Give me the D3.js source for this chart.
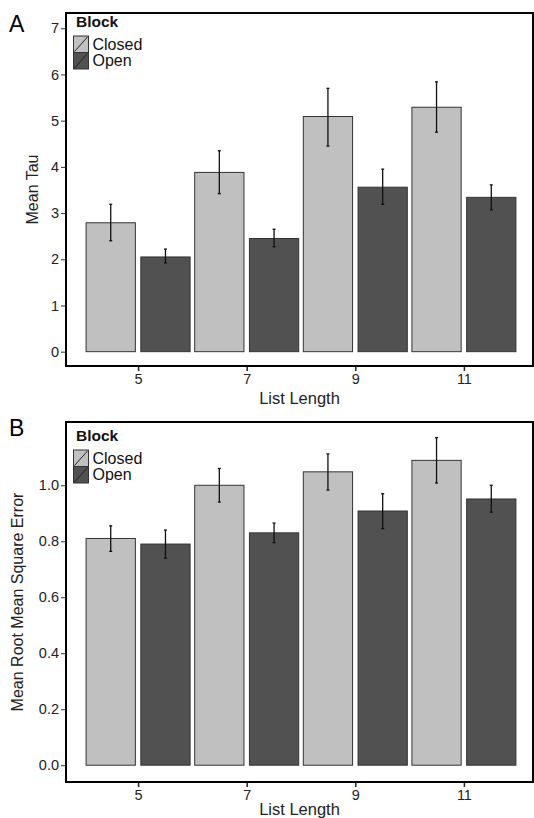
<!DOCTYPE html>
<html><head><meta charset="utf-8">
<script src="https://cdn.jsdelivr.net/npm/d3@7"></script>
<style>body{margin:0;background:#fff}svg{display:block}text{font-family:"Liberation Sans",Arial,Helvetica,sans-serif}</style>
</head><body>
<script>
const categories = ["5","7","9","11"];
const series = ["Closed","Open"];
// Panel A: Mean Tau
const tauClosed = [2.79, 3.88, 5.09, 5.29];
const tauClosedLo = [2.40, 3.42, 4.45, 4.75];
const tauClosedHi = [3.19, 4.35, 5.70, 5.84];
const tauOpen = [2.05, 2.45, 3.56, 3.34];
const tauOpenLo = [1.92, 2.27, 3.19, 3.07];
const tauOpenHi = [2.22, 2.65, 3.95, 3.61];
const tauTicks = [0,1,2,3,4,5,6,7];
// Panel B: Mean RMSE
const rmseClosed = [0.81, 1.00, 1.048, 1.089];
const rmseClosedLo = [0.764, 0.94, 0.983, 1.008];
const rmseClosedHi = [0.855, 1.06, 1.112, 1.170];
const rmseOpen = [0.79, 0.83, 0.908, 0.951];
const rmseOpenLo = [0.74, 0.795, 0.845, 0.904];
const rmseOpenHi = [0.84, 0.865, 0.970, 1.000];
const rmseTicks = [0,0.2,0.4,0.6,0.8,1.0];

const colors = {Closed:"#c0c0c0", Open:"#515151"};
const W=534,H=818;
const svg=d3.select("body").append("svg").attr("width",W).attr("height",H);

function panel(o){
  const g=svg.append("g");
  const x=d3.scalePoint().domain(categories).range([o.left+1.5,o.right+1.5]).padding(0.65);
  const xi=d3.scaleBand().domain(series).range([-52,52]).paddingInner(0.1);
  const y=d3.scaleLinear().domain(o.domain).range([o.bottom,o.top]);
  const rows=[];
  categories.forEach((c,i)=>{
    rows.push({c,s:"Closed",v:o.closed[i],lo:o.closedLo[i],hi:o.closedHi[i]});
    rows.push({c,s:"Open",v:o.open[i],lo:o.openLo[i],hi:o.openHi[i]});
  });
  g.selectAll("rect.bar").data(rows).join("rect").attr("class","bar")
    .attr("x",d=>x(d.c)+xi(d.s)).attr("width",xi.bandwidth())
    .attr("y",d=>y(d.v)).attr("height",d=>y(0)-y(d.v))
    .attr("fill",d=>colors[d.s]).attr("stroke","#333").attr("stroke-width",1);
  const eb=g.selectAll("g.eb").data(rows).join("g").attr("class","eb")
    .attr("transform",d=>`translate(${x(d.c)+xi(d.s)+xi.bandwidth()/2},0)`);
  eb.append("line").attr("y1",d=>y(d.lo)).attr("y2",d=>y(d.hi)).attr("stroke","#111").attr("stroke-width",1.3);
  eb.append("line").attr("x1",-1.5).attr("x2",1.5).attr("y1",d=>y(d.hi)).attr("y2",d=>y(d.hi)).attr("stroke","#111").attr("stroke-width",1.3);
  eb.append("line").attr("x1",-1.5).attr("x2",1.5).attr("y1",d=>y(d.lo)).attr("y2",d=>y(d.lo)).attr("stroke","#111").attr("stroke-width",1.3);
  // frame
  g.append("rect").attr("x",o.left).attr("y",o.top).attr("width",o.right-o.left).attr("height",o.bottom-o.top)
    .attr("fill","none").attr("stroke","#000").attr("stroke-width",2);
  // axes
  const ya=g.append("g").attr("transform",`translate(${o.left-1},0)`)
    .call(d3.axisLeft(y).tickValues(o.ticks).tickFormat(o.fmt).tickSize(4).tickPadding(2));
  ya.select(".domain").remove();
  ya.selectAll("line").attr("stroke","#333");
  ya.selectAll("text").attr("font-size",14.5).attr("fill","#222");
  const xa=g.append("g").attr("transform",`translate(0,${o.bottom+1})`)
    .call(d3.axisBottom(x).tickSize(4).tickPadding(3));
  xa.select(".domain").remove();
  xa.selectAll("line").attr("stroke","#222").attr("stroke-width",1.5);
  xa.selectAll("text").attr("font-size",14.5).attr("fill","#222");
  g.append("text").attr("x",(o.left+o.right)/2).attr("y",o.xtitleY).attr("text-anchor","middle")
    .attr("font-size",16.5).attr("fill","#222").text("List Length");
  g.append("text").attr("transform",`translate(${o.ytitleX},${(o.top+o.bottom)/2}) rotate(-90)`)
    .attr("text-anchor","middle").attr("font-size",16).attr("fill","#222").text(o.ytitle);
  g.append("text").attr("x",9).attr("y",o.labelY).attr("font-size",23).attr("fill","#000").text(o.label);
  // legend
  const lg=g.append("g").attr("transform",`translate(${o.left+7.5},${o.top+o.legDy})`);
  lg.append("text").attr("x",2.5).attr("y",14).attr("font-size",15.5).attr("font-weight","bold").attr("fill","#111").text("Block");
  series.forEach((s,i)=>{
    const yy=23+i*16.5;
    lg.append("rect").attr("x",0).attr("y",yy).attr("width",15).attr("height",16.5)
      .attr("fill",colors[s]).attr("stroke","#333").attr("stroke-width",1);
    lg.append("line").attr("x1",1).attr("y1",yy+15.5).attr("x2",14).attr("y2",yy+1).attr("stroke","#222").attr("stroke-width",1);
    lg.append("text").attr("x",19).attr("y",yy+13.5).attr("font-size",16).attr("fill","#111").text(s);
  });
}

panel({left:66,right:533,top:13,bottom:366,domain:[-0.31,7.33],ticks:tauTicks,fmt:d3.format("d"),
  closed:tauClosed,closedLo:tauClosedLo,closedHi:tauClosedHi,open:tauOpen,openLo:tauOpenLo,openHi:tauOpenHi,
  ytitle:"Mean Tau",ytitleX:38,xtitleY:404,label:"A",labelY:32,legDy:0});
panel({left:66,right:533,top:422,bottom:782,domain:[-0.06,1.226],ticks:rmseTicks,fmt:d3.format(".1f"),
  closed:rmseClosed,closedLo:rmseClosedLo,closedHi:rmseClosedHi,open:rmseOpen,openLo:rmseOpenLo,openHi:rmseOpenHi,
  ytitle:"Mean Root Mean Square Error",ytitleX:23,xtitleY:815,label:"B",labelY:436,legDy:5});
</script>
</body></html>
